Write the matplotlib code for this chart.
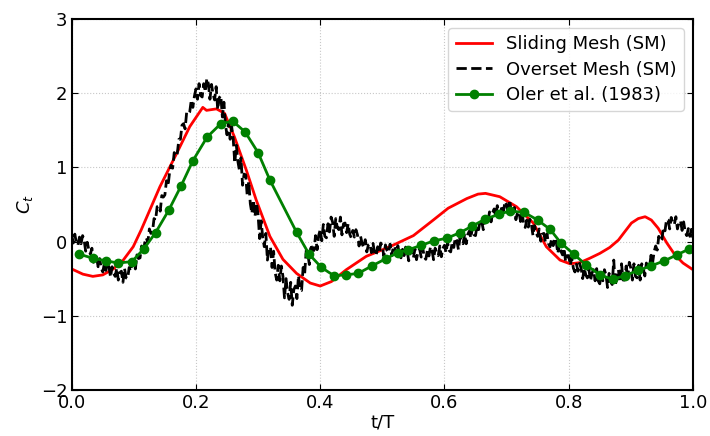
import numpy as np
import matplotlib.pyplot as plt

# Sliding Mesh (SM)
t_sliding = [0.0, 0.018, 0.034, 0.050, 0.067, 0.083, 0.099, 0.112, 0.127, 0.142,
             0.169, 0.190, 0.211, 0.217, 0.233, 0.246, 0.262, 0.281, 0.297, 0.319,
             0.340, 0.362, 0.384, 0.400, 0.418, 0.442, 0.474, 0.512, 0.550, 0.582,
             0.606, 0.636, 0.654, 0.666, 0.689, 0.716, 0.743, 0.764, 0.786, 0.802,
             0.818, 0.834, 0.850, 0.866, 0.880, 0.890, 0.901, 0.912, 0.923, 0.933,
             0.944, 0.958, 0.971, 0.984, 1.0]
c_sliding = [-0.37, -0.44, -0.47, -0.45, -0.37, -0.25, -0.07, 0.16, 0.45, 0.74,
             1.19, 1.55, 1.81, 1.77, 1.79, 1.73, 1.41, 0.965, 0.56, 0.07,
             -0.24, -0.43, -0.56, -0.60, -0.54, -0.38, -0.20, -0.07, 0.08, 0.29,
             0.45, 0.58, 0.64, 0.65, 0.605, 0.47, 0.25, -0.07, -0.25, -0.30,
             -0.285, -0.225, -0.16, -0.08, 0.02, 0.13, 0.25, 0.31, 0.335, 0.29,
             0.18, -0.02, -0.18, -0.29, -0.38]

# Overset Mesh, sampled every 0.0025 t/T (one row = 0.01)
c_overset = [
    0.09, -0.02, 0.10, -0.02,
    -0.05, 0.06, -0.03, 0.08,
    0.02, -0.13, -0.01, -0.11,
    -0.17, -0.09, -0.28, -0.20,
    -0.21, -0.34, -0.23, -0.36,
    -0.41, -0.30, -0.39, -0.28,
    -0.34, -0.48, -0.34, -0.43,
    -0.47, -0.36, -0.52, -0.42,
    -0.40, -0.55, -0.36, -0.49,
    -0.50, -0.35, -0.40, -0.26,
    -0.28, -0.37, -0.18, -0.23,
    -0.22, -0.06, -0.17, -0.02,
    0.05, -0.01, 0.17, 0.11,
    0.13, 0.31, 0.29, 0.47,
    0.48, 0.41, 0.62, 0.60,
    0.63, 0.82, 0.75, 0.93,
    1.03, 0.99, 1.20, 1.15,
    1.19, 1.38, 1.38, 1.57,
    1.59, 1.52, 1.74, 1.72,
    1.75, 1.91, 1.81, 1.96,
    2.06, 1.92, 2.13, 1.97,
    1.95, 2.13, 2.02, 2.20,
    2.13, 1.92, 2.12, 1.99,
    1.91, 2.09, 1.78, 1.94,
    1.97, 1.68, 1.88, 1.57,
    1.44, 1.61, 1.38, 1.55,
    1.38, 1.06, 1.30, 1.08,
    0.96, 1.13, 0.76, 0.91,
    0.90, 0.62, 0.81, 0.51,
    0.38, 0.56, 0.34, 0.52,
    0.36, 0.04, 0.28, 0.05,
    -0.07, 0.11, -0.25, -0.08,
    -0.08, -0.35, -0.13, -0.42,
    -0.52, -0.32, -0.53, -0.33,
    -0.47, -0.76, -0.50, -0.69,
    -0.78, -0.55, -0.86, -0.65,
    -0.60, -0.77, -0.46, -0.65,
    -0.66, -0.35, -0.43, -0.12,
    -0.16, -0.31, -0.04, -0.12,
    -0.12, 0.08, -0.11, 0.08,
    0.16, 0.01, 0.23, 0.07,
    0.05, 0.24, 0.13, 0.33,
    0.26, 0.07, 0.31, 0.19,
    0.16, 0.33, 0.09, 0.24,
    0.25, 0.12, 0.24, 0.10,
    0.05, 0.15, 0.06, 0.16,
    0.09, -0.06, 0.07, -0.03,
    -0.08, 0.025, -0.14, -0.045,
    -0.03, -0.15, -0.025, -0.15,
    -0.19, -0.07, -0.145, -0.02,
    -0.07, -0.20, -0.045, -0.12,
    -0.15, -0.035, -0.19, -0.085,
    -0.06, -0.18, -0.055, -0.18,
    -0.22, -0.105, -0.19, -0.075,
    -0.13, -0.26, -0.11, -0.19,
    -0.22, -0.10, -0.245, -0.13,
    -0.10, -0.21, -0.085, -0.21,
    -0.24, -0.12, -0.195, -0.07,
    -0.12, -0.245, -0.09, -0.165,
    -0.19, -0.06, -0.205, -0.09,
    -0.05, -0.15, -0.01, -0.12,
    -0.14, -0.01, -0.08, 0.05,
    0.01, -0.11, 0.055, -0.01,
    -0.03, 0.105, -0.03, 0.095,
    0.14, 0.05, 0.195, 0.09,
    0.08, 0.22, 0.16, 0.30,
    0.27, 0.16, 0.33, 0.27,
    0.26, 0.40, 0.265, 0.39,
    0.44, 0.34, 0.485, 0.38,
    0.36, 0.49, 0.415, 0.54,
    0.50, 0.36, 0.56, 0.40,
    0.36, 0.46, 0.295, 0.39,
    0.40, 0.27, 0.38, 0.24,
    0.19, 0.29, 0.195, 0.30,
    0.23, 0.08, 0.215, 0.12,
    0.07, 0.17, 0.005, 0.10,
    0.11, -0.01, 0.105, -0.03,
    -0.07, 0.04, -0.055, 0.05,
    -0.01, -0.16, -0.03, -0.13,
    -0.18, -0.09, -0.27, -0.19,
    -0.19, -0.32, -0.215, -0.36,
    -0.41, -0.305, -0.40, -0.295,
    -0.36, -0.50, -0.36, -0.45,
    -0.49, -0.375, -0.53, -0.425,
    -0.38, -0.53, -0.365, -0.53,
    -0.57, -0.42, -0.53, -0.38,
    -0.45, -0.62, -0.43, -0.54,
    -0.58, -0.25, -0.60, -0.45,
    -0.38, -0.55, -0.30, -0.52,
    -0.52, -0.33, -0.50, -0.28,
    -0.36, -0.52, -0.30, -0.47,
    -0.49, -0.32, -0.52, -0.30,
    -0.36, -0.465, -0.29, -0.345,
    -0.35, -0.185, -0.29, -0.135,
    -0.06, -0.115, 0.07, 0.005,
    0.03, 0.19, 0.145, 0.30,
    0.29, 0.17, 0.325, 0.25,
    0.23, 0.335, 0.17, 0.265,
    0.28, 0.15, 0.265, 0.13,
    0.08, 0.175, 0.07, 0.165,
    0.05]
t_overset = np.linspace(0, 1, len(c_overset))

# Oler et al. (1983)
t_oler = [0.012, 0.034, 0.055, 0.075, 0.097, 0.116, 0.135, 0.156, 0.176, 0.195,
          0.218, 0.240, 0.259, 0.279, 0.300, 0.319, 0.362, 0.382, 0.402, 0.422,
          0.441, 0.461, 0.483, 0.506, 0.525, 0.542, 0.563, 0.583, 0.604, 0.625,
          0.645, 0.665, 0.688, 0.705, 0.728, 0.750, 0.770, 0.787, 0.808, 0.828,
          0.850, 0.871, 0.890, 0.912, 0.932, 0.954, 0.974, 0.994]
c_oler = [-0.17, -0.225, -0.26, -0.29, -0.27, -0.10, 0.12, 0.42, 0.75, 1.09,
          1.41, 1.59, 1.625, 1.48, 1.20, 0.83, 0.125, -0.17, -0.35, -0.46,
          -0.45, -0.43, -0.33, -0.23, -0.15, -0.11, -0.05, 0.01, 0.045, 0.12,
          0.21, 0.30, 0.37, 0.41, 0.395, 0.29, 0.165, -0.015, -0.17, -0.315,
          -0.45, -0.51, -0.46, -0.39, -0.33, -0.26, -0.18, -0.10]

fig = plt.figure(figsize=(7.1, 4.36), dpi=100)
ax = fig.add_axes([0.101, 0.106, 0.875, 0.85])

ax.plot(t_sliding, c_sliding, color="red", lw=2, label="Sliding Mesh (SM)")
ax.plot(t_overset, c_overset, color="black", lw=2, linestyle="--", label="Overset Mesh (SM)")
ax.plot(t_oler, c_oler, color="green", lw=2, marker="o", markersize=6, label="Oler et al. (1983)")

ax.set_xlim(0, 1)
ax.set_ylim(-2, 3)
ax.set_xticks([0.0, 0.2, 0.4, 0.6, 0.8, 1.0])
ax.set_yticks([-2, -1, 0, 1, 2, 3])
ax.tick_params(direction="in", top=True, right=True, labelsize=13, length=4, pad=3)
ax.grid(True, color="#c8c8c8", linestyle=":", linewidth=0.8)
for s in ax.spines.values():
    s.set_linewidth(1.5)

ax.set_xlabel("t/T", fontsize=13, labelpad=1)
ax.set_ylabel("$C_t$", fontsize=13)
ax.legend(loc="upper right", fontsize=13, labelspacing=0.4, handlelength=2.0)

fig.savefig("out.png", dpi=100)
